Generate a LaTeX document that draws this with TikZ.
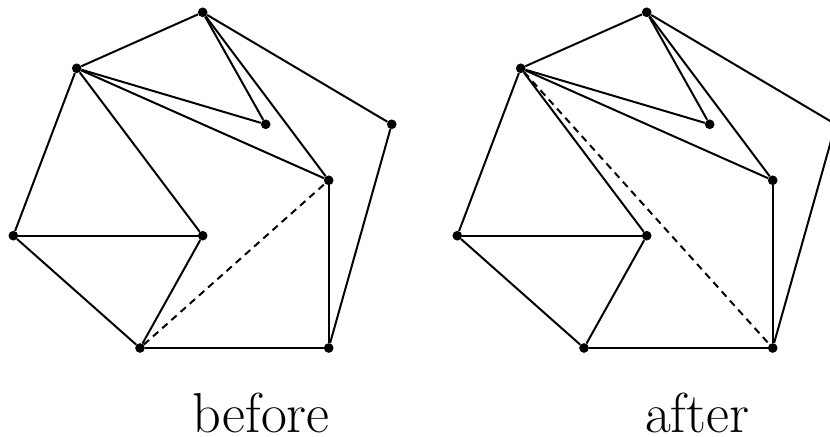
\documentclass[tikz,border=0pt]{standalone}
\usetikzlibrary{positioning}

\tikzset{
    vtx/.style={circle, fill=black, inner sep=0pt, minimum size=0.29cm},
    edge/.style={line width=1.7pt},
    flip/.style={line width=1.7pt, dash pattern=on 6pt off 4.5pt},
    caption/.style={anchor=base, inner sep=0pt, font=\fontsize{48}{58}\selectfont}
}

\begin{document}
\begin{tikzpicture}[x=0.03cm, y=-0.03cm]
    \useasboundingbox (0,0) rectangle (830,436);
    % before
    \node[vtx] (a1) at (202.7,12.3) {};
    \node[vtx] (b1) at (76.7,68.3) {};
    \node[vtx] (c1) at (265.7,124.3) {};
    \node[vtx] (d1) at (391.7,124.3) {};
    \node[vtx] (e1) at (328.7,180.3) {};
    \node[vtx] (f1) at (13.3,235.7) {};
    \node[vtx] (g1) at (202.7,235.7) {};
    \node[vtx] (h1) at (140,348) {};
    \node[vtx] (i1) at (328.7,348) {};

    \draw[edge] (a1) -- (b1);
    \draw[edge] (a1) -- (c1);
    \draw[edge] (a1) -- (e1);
    \draw[edge] (a1) -- (d1);
    \draw[edge] (b1) -- (c1);
    \draw[edge] (b1) -- (e1);
    \draw[edge] (b1) -- (g1);
    \draw[edge] (b1) -- (f1);
    \draw[edge] (f1) -- (g1);
    \draw[edge] (f1) -- (h1);
    \draw[edge] (g1) -- (h1);
    \draw[edge] (h1) -- (i1);
    \draw[edge] (e1) -- (i1);
    \draw[edge] (d1) -- (i1);
    \draw[flip] (h1) -- (e1);

    % after
    \node[vtx] (a2) at (646.7,12.3) {};
    \node[vtx] (b2) at (520.7,68.3) {};
    \node[vtx] (c2) at (709.7,124.3) {};
    \node[vtx] (d2) at (835.7,124.3) {};
    \node[vtx] (e2) at (772.7,180.3) {};
    \node[vtx] (f2) at (457.3,235.7) {};
    \node[vtx] (g2) at (646.7,235.7) {};
    \node[vtx] (h2) at (584,348) {};
    \node[vtx] (i2) at (772.7,348) {};

    \draw[edge] (a2) -- (b2);
    \draw[edge] (a2) -- (c2);
    \draw[edge] (a2) -- (e2);
    \draw[edge] (a2) -- (d2);
    \draw[edge] (b2) -- (c2);
    \draw[edge] (b2) -- (e2);
    \draw[edge] (b2) -- (g2);
    \draw[edge] (b2) -- (f2);
    \draw[edge] (f2) -- (g2);
    \draw[edge] (f2) -- (h2);
    \draw[edge] (g2) -- (h2);
    \draw[edge] (h2) -- (i2);
    \draw[edge] (e2) -- (i2);
    \draw[edge] (d2) -- (i2);
    \draw[flip] (b2) -- (i2);

    \node[caption] (before) at (261,432) {before};
    \node[caption] (after) at (697,432) {after};
\end{tikzpicture}
\end{document}
